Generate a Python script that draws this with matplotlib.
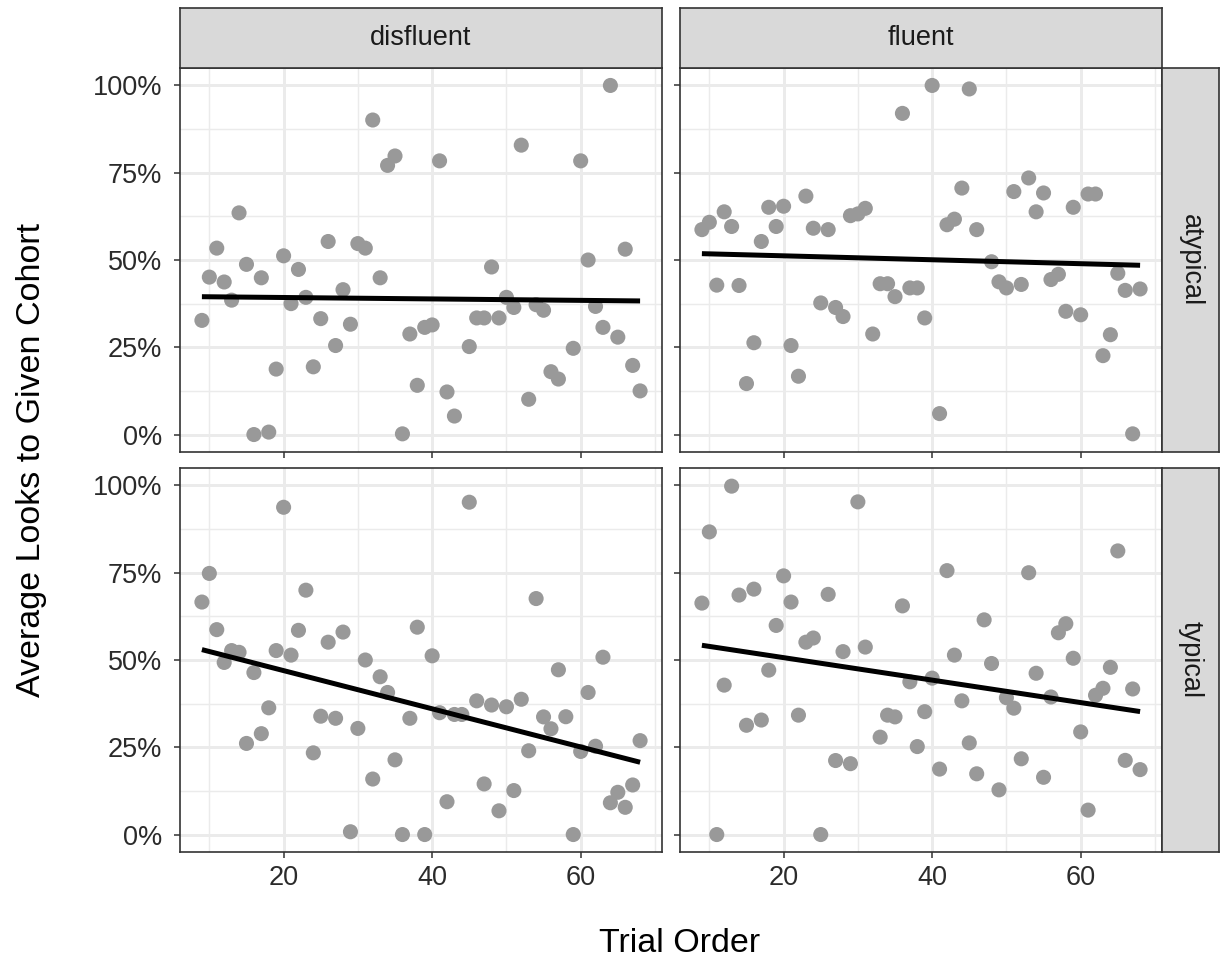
import numpy as np
import matplotlib
matplotlib.use("Agg")
import matplotlib.pyplot as plt
from matplotlib.ticker import FixedLocator

plt.rcParams['font.family'] = ['Liberation Sans', 'DejaVu Sans']

# ---- data -----------------------------------------------------------
cols = ["disfluent", "fluent"]
rows = ["atypical", "typical"]

dis_aty_x = [9, 10, 11, 12, 13, 14, 15, 16, 17, 18, 19, 20, 21, 22, 23, 24, 25, 26, 27, 28,
             29, 30, 31, 32, 33, 34, 35, 36, 37, 38, 39, 40, 41, 42, 43, 45, 46, 47, 48, 49,
             50, 51, 52, 53, 54, 55, 56, 57, 59, 60, 61, 62, 63, 64, 65, 66, 67, 68]
dis_aty_y = [32.7, 45.1, 53.4, 43.7, 38.5, 63.5, 48.75, 0.0, 44.9, 0.7, 18.75, 51.2, 37.5, 47.3,
             39.3, 19.4, 33.2, 55.3, 25.5, 41.5,
             31.6, 54.7, 53.4, 90.1, 44.9, 77.1, 79.8, 0.2, 28.8, 14.1, 30.7, 31.4, 78.4, 12.2,
             5.3, 25.2, 33.4, 33.4, 48.0, 33.4,
             39.3, 36.4, 82.9, 10.1, 37.2, 35.6, 18.0, 15.9, 24.7, 78.4, 50.0, 36.7, 30.7, 100.0,
             27.9, 53.1, 19.8, 12.5]

flu_aty_x = [9, 10, 11, 12, 13, 14, 15, 16, 17, 18, 19, 20, 21, 22, 23, 24, 25, 26, 27, 28,
             29, 30, 31, 32, 33, 34, 35, 36, 37, 38, 39, 40, 41, 42, 43, 44, 45, 46, 48, 49,
             50, 51, 52, 53, 54, 55, 56, 57, 58, 59, 60, 61, 62, 63, 64, 65, 66, 67, 68]
flu_aty_y = [58.7, 60.8, 42.8, 63.8, 59.6, 42.7, 14.6, 26.3, 55.3, 65.1, 59.6, 65.4, 25.5, 16.7,
             68.3, 59.1, 37.7, 58.7, 36.4, 33.8,
             62.7, 63.2, 64.8, 28.8, 43.2, 43.2, 39.5, 92.0, 42.0, 42.0, 33.4, 100.0, 6.0, 60.1,
             61.7, 70.6, 99.0, 58.7, 49.5, 43.75,
             42.0, 69.6, 43.0, 73.5, 63.8, 69.2, 44.4, 45.9, 35.3, 65.1, 34.3, 68.9, 68.9, 22.6,
             28.6, 46.2, 41.3, 0.2, 41.7]

dis_typ_x = [9, 10, 11, 12, 13, 14, 15, 16, 17, 18, 19, 20, 21, 22, 23, 24, 25, 26, 27, 28,
             29, 30, 31, 32, 33, 34, 35, 36, 37, 38, 39, 40, 41, 42, 43, 44, 45, 46, 47, 48,
             49, 50, 51, 52, 53, 54, 55, 56, 57, 58, 59, 60, 61, 62, 63, 64, 65, 66, 67, 68]
dis_typ_y = [66.6, 74.8, 58.7, 49.3, 52.7, 52.2, 26.1, 46.4, 28.9, 36.3, 52.7, 93.75, 51.4, 58.5,
             70.0, 23.4, 33.9, 55.1, 33.3, 58.0,
             0.8, 30.4, 50.0, 15.9, 45.2, 40.7, 21.4, 0.0, 33.3, 59.4, 0.0, 51.2, 34.9, 9.4,
             34.4, 34.4, 95.2, 38.3, 14.5, 37.1,
             6.8, 36.6, 12.6, 38.75, 24.0, 67.6, 33.7, 30.3, 47.2, 33.75, 0.0, 23.8, 40.7, 25.3,
             50.8, 9.1, 12.1, 7.8, 14.2, 26.9]

flu_typ_x = [9, 10, 11, 12, 13, 14, 15, 16, 17, 18, 19, 20, 21, 22, 23, 24, 25, 26, 27, 28,
             29, 30, 31, 33, 34, 35, 36, 37, 38, 39, 40, 41, 42, 43, 44, 45, 46, 47, 48, 49,
             50, 51, 52, 53, 54, 55, 56, 57, 58, 59, 60, 61, 62, 63, 64, 65, 66, 67, 68]
flu_typ_y = [66.3, 86.7, 0.0, 42.8, 99.8, 68.6, 31.3, 70.3, 32.8, 47.1, 59.9, 74.1, 66.6, 34.2,
             55.1, 56.3, 0.0, 68.8, 21.2, 52.4,
             20.3, 95.3, 53.7, 27.9, 34.2, 33.7, 65.5, 43.75, 25.2, 35.2, 44.8, 18.75, 75.6,
             51.4, 38.3, 26.25, 17.4, 61.5, 49.0, 12.8,
             39.2, 36.2, 21.7, 75.0, 46.2, 16.4, 39.4, 57.8, 60.4, 50.5, 29.4, 7.0, 39.9, 41.9,
             47.9, 81.25, 21.25, 41.7, 18.6]

panels = {
    ("atypical", "disfluent"): (dis_aty_x, dis_aty_y),
    ("atypical", "fluent"): (flu_aty_x, flu_aty_y),
    ("typical", "disfluent"): (dis_typ_x, dis_typ_y),
    ("typical", "fluent"): (flu_typ_x, flu_typ_y),
}

x_ticks = [20, 40, 60]
y_ticks = [0, 25, 50, 75, 100]
y_labels = ["0%", "25%", "50%", "75%", "100%"]

# ---- layout ---------------------------------------------------------
W, H = 1222, 965
fig = plt.figure(figsize=(W / 100, H / 100), dpi=100)
fig.patch.set_facecolor("white")

col_left = [180, 680]
col_w = 482
row_top = [68, 468]
row_h = 384
strip_h = 60
strip_w = 57

def rect(x0, y0, w, h):
    return [x0 / W, 1 - (y0 + h) / H, w / W, h / H]

border = "#333333"
tick_fs = 19.5
title_fs = 24.5
all_x = dis_aty_x + flu_aty_x + dis_typ_x + flu_typ_x
xmin, xmax = min(all_x), max(all_x)
xpad = (xmax - xmin) * 0.05

for ri, r in enumerate(rows):
    for ci, c in enumerate(cols):
        ax = fig.add_axes(rect(col_left[ci], row_top[ri], col_w, row_h))
        xs = np.array(panels[(r, c)][0], dtype=float)
        ys = np.array(panels[(r, c)][1], dtype=float)
        ax.set_xlim(xmin - xpad, xmax + xpad)
        ax.set_ylim(-5, 105)
        ax.xaxis.set_major_locator(FixedLocator(x_ticks))
        ax.xaxis.set_minor_locator(FixedLocator([10, 30, 50, 70]))
        ax.yaxis.set_major_locator(FixedLocator(y_ticks))
        ax.yaxis.set_minor_locator(FixedLocator([12.5, 37.5, 62.5, 87.5]))
        ax.grid(which="major", color="#EBEBEB", lw=2.1, zorder=0)
        ax.grid(which="minor", color="#EBEBEB", lw=1.05, zorder=0)
        ax.set_axisbelow(True)
        ax.tick_params(which="minor", length=0)
        ax.tick_params(which="major", length=4.5, width=1.1, color=border,
                       labelsize=tick_fs, labelcolor="#2B2B2B")
        ax.tick_params(axis="y", pad=8.5)
        ax.tick_params(axis="x", pad=5)
        for sp in ax.spines.values():
            sp.set_color(border)
            sp.set_linewidth(1.2)
        if ci == 0:
            ax.set_yticklabels(y_labels)
        else:
            ax.tick_params(axis="y", labelleft=False)
        if ri == 0:
            ax.tick_params(axis="x", labelbottom=False)
        ax.scatter(xs, ys, s=118, color="#999999", edgecolors="none", zorder=3)
        b, a = np.polyfit(xs, ys, 1)
        xl = np.array([xs.min(), xs.max()])
        ax.plot(xl, a + b * xl, color="black", lw=3.6, zorder=4,
                solid_capstyle="butt")

# column strips
for ci, c in enumerate(cols):
    sa = fig.add_axes(rect(col_left[ci], row_top[0] - strip_h, col_w, strip_h))
    sa.set_facecolor("#D9D9D9")
    sa.set_xticks([]); sa.set_yticks([])
    for sp in sa.spines.values():
        sp.set_color(border); sp.set_linewidth(1.2)
    sa.text(0.5, 0.5, c, ha="center", va="center", fontsize=tick_fs,
            color="#1A1A1A", transform=sa.transAxes)

# row strips
for ri, r in enumerate(rows):
    sa = fig.add_axes(rect(col_left[1] + col_w, row_top[ri], strip_w, row_h))
    sa.set_facecolor("#D9D9D9")
    sa.set_xticks([]); sa.set_yticks([])
    for sp in sa.spines.values():
        sp.set_color(border); sp.set_linewidth(1.2)
    sa.text(0.5, 0.5, r, ha="center", va="center", fontsize=tick_fs, rotation=-90,
            color="#1A1A1A", transform=sa.transAxes)

fig.text(680 / W, 1 - 944 / H, "Trial Order", ha="center", va="center",
         fontsize=title_fs)
fig.text(32 / W, 1 - 460 / H, "Average Looks to Given Cohort", ha="center",
         va="center", rotation=90, fontsize=title_fs)

fig.savefig("out.png", dpi=100, facecolor="white")
